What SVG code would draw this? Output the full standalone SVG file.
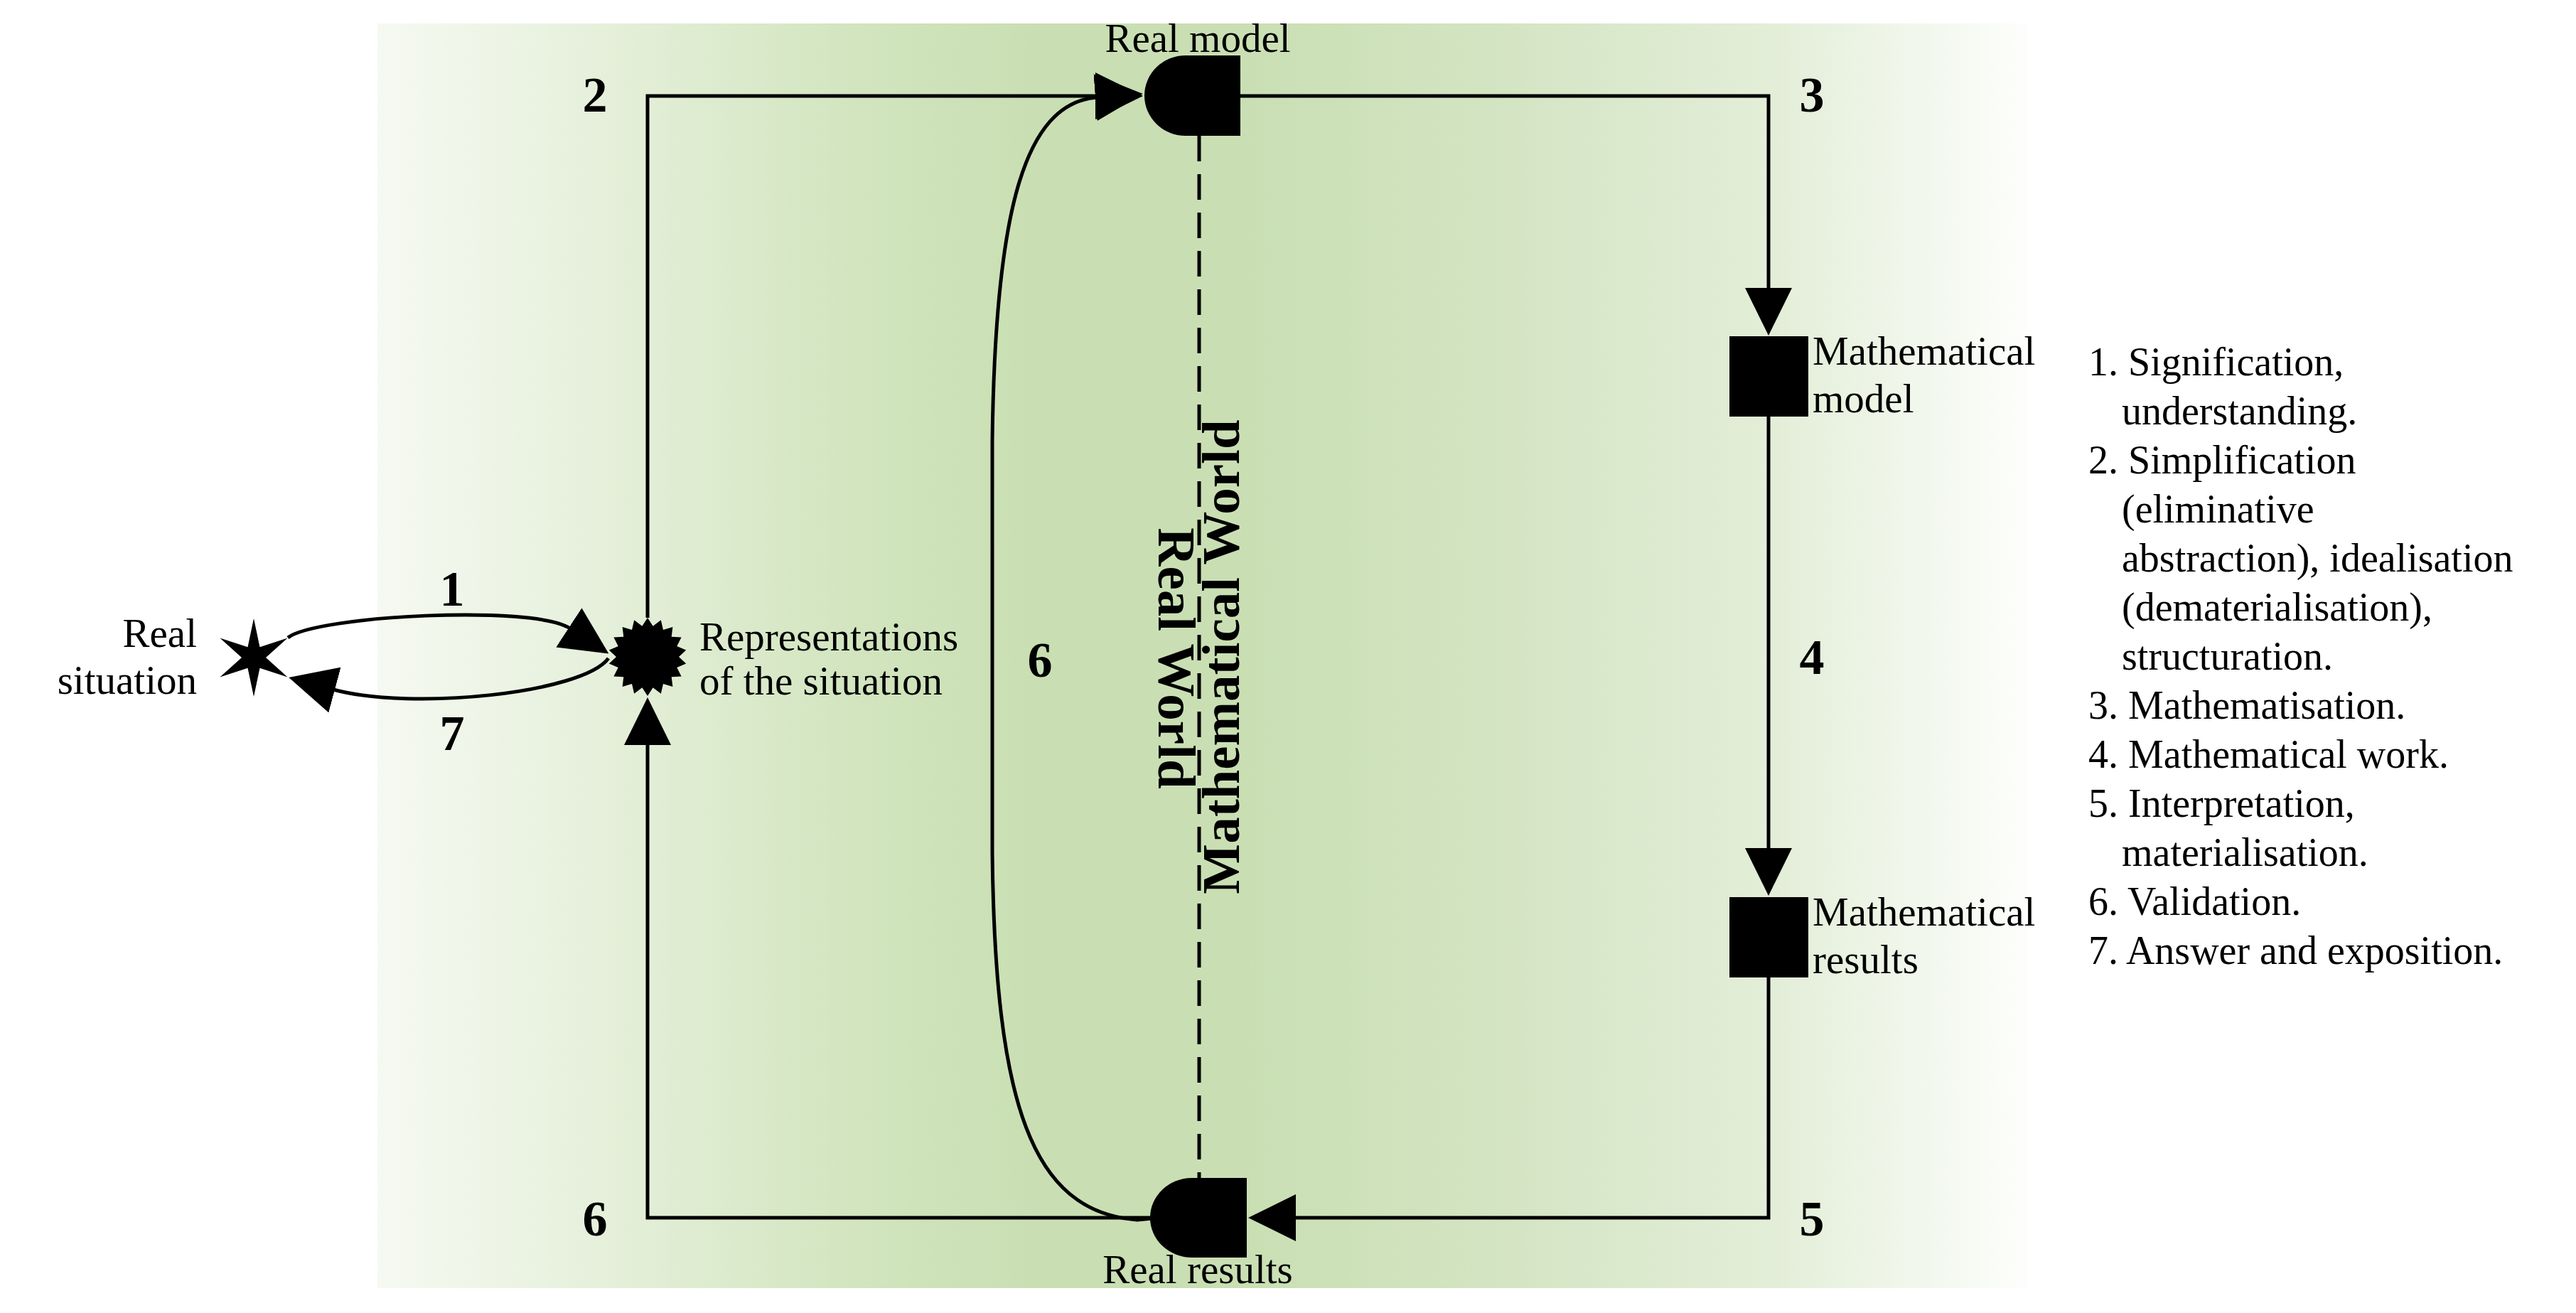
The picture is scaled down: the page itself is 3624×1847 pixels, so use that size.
<svg xmlns="http://www.w3.org/2000/svg" width="3624" height="1847" viewBox="0 0 3624 1847">
<defs>
<linearGradient id="bg" x1="531" y1="0" x2="2852" y2="0" gradientUnits="userSpaceOnUse">
<stop offset="0" stop-color="#f6f9f1"/>
<stop offset="0.116" stop-color="#e8f1de"/>
<stop offset="0.288" stop-color="#d2e5bf"/>
<stop offset="0.396" stop-color="#c9dfb3"/>
<stop offset="0.525" stop-color="#c9dfb3"/>
<stop offset="0.676" stop-color="#d3e4c2"/>
<stop offset="0.848" stop-color="#e3eed8"/>
<stop offset="1" stop-color="#fdfefc"/>
</linearGradient>
<marker id="arr" viewBox="0 0 67 66" refX="2" refY="33" markerWidth="67" markerHeight="66" markerUnits="userSpaceOnUse" orient="auto">
<path d="M0,0 L67,33 L0,66 Z" fill="#000"/>
</marker>
</defs>
<style>
.ln{fill:none;stroke:#000;stroke-width:5}
.arrow{marker-end:url(#arr)}
.dash{fill:none;stroke:#000;stroke-width:5;stroke-dasharray:36 18}
.shape{fill:#000}
.lbl{font-family:"Liberation Serif","Times New Roman",serif;font-size:57px;fill:#000}
.num{font-family:"Liberation Serif","Times New Roman",serif;font-size:70px;font-weight:bold;fill:#000;text-anchor:middle}
.world{font-family:"Liberation Serif","Times New Roman",serif;font-size:75px;font-weight:bold;fill:#000;text-anchor:middle}
.leg{font-family:"Liberation Serif","Times New Roman",serif;font-size:56px;fill:#000}
</style>
<rect x="0" y="0" width="3624" height="1847" fill="#ffffff"/>
<rect id="background" x="531" y="33" width="2321" height="1779" fill="url(#bg)"/>

<g id="connectors">
<path class="ln arrow" d="M911 869 V135 H1543"/>
<path class="ln arrow" d="M1745 135 H2488 V407"/>
<path class="ln arrow" d="M2488 586 V1195"/>
<path class="ln arrow" d="M2488 1375 V1713 H1821"/>
<path class="ln arrow" d="M1620 1713 H911 V1046"/>
<path class="ln arrow" d="M1620 1714 L1600 1716 C1450 1705 1400 1550 1396 1200 V620 C1400 300 1440 145 1543 137"/>
<path class="ln arrow" d="M405 897 C445 866 750 850 802 884"/>
<path class="ln arrow" d="M856 926 C820 975 580 1000 469 970"/>
<path class="dash" d="M1687 191 V1657"/>
<text class="num" x="636" y="852">1</text>
<text class="num" x="837" y="157">2</text>
<text class="num" x="2549" y="157">3</text>
<text class="num" x="2549" y="948">4</text>
<text class="num" x="2549" y="1738">5</text>
<text class="num" x="837" y="1738">6</text>
<text class="num" x="1463" y="952">6</text>
<text class="num" x="636" y="1055">7</text>
</g>

<g id="real-situation">
<polygon class="shape" points="357,870 365.5,910.3 404.6,897.5 374,925 404.6,952.5 365.5,939.7 357,980 348.5,939.7 309.4,952.5 340,925 309.4,897.5 348.5,910.3"/>
<text class="lbl" x="277" y="910" text-anchor="end">Real</text>
<text class="lbl" x="277" y="976" text-anchor="end">situation</text>
</g>

<g id="representations">
<polygon class="shape" points="911,869 918.6,880.7 929.8,872.3 933,885.9 946.4,881.9 944.7,895.7 958.6,896.5 952.3,909 965.2,914.5 955,924 965.2,933.5 952.3,939 958.6,951.5 944.7,952.3 946.4,966.1 933,962.1 929.8,975.7 918.6,967.3 911,979 903.4,967.3 892.2,975.7 889,962.1 875.6,966.1 877.3,952.3 863.4,951.5 869.7,939 856.8,933.5 867,924 856.8,914.5 869.7,909 863.4,896.5 877.3,895.7 875.6,881.9 889,885.9 892.2,872.3 903.4,880.7"/>
<text class="lbl" x="984" y="915">Representations</text>
<text class="lbl" x="984" y="977">of the situation</text>
</g>

<g id="real-model">
<path class="shape" d="M1668 78 H1745 V191 H1668 A58 56.5 0 0 1 1668 78 Z"/>
<text class="lbl" x="1685" y="73" text-anchor="middle">Real model</text>
</g>

<g id="mathematical-model">
<rect class="shape" x="2433" y="473" width="111" height="113"/>
<text class="lbl" x="2550" y="513">Mathematical</text>
<text class="lbl" x="2550" y="580">model</text>
</g>

<g id="mathematical-results">
<rect class="shape" x="2433" y="1262" width="111" height="113"/>
<text class="lbl" x="2550" y="1302">Mathematical</text>
<text class="lbl" x="2550" y="1369">results</text>
</g>

<g id="real-results">
<path class="shape" d="M1677 1657 H1754 V1769 H1677 A59 56 0 0 1 1677 1657 Z"/>
<text class="lbl" x="1685" y="1805" text-anchor="middle">Real results</text>
</g>

<g id="world-labels">
<text class="world" transform="translate(1743 924) rotate(-90)">Mathematical World</text>
<text class="world" transform="translate(1630 926) rotate(90)">Real World</text>
</g>

<g id="legend">
<text class="leg" x="2938" y="528">1. Signification,</text>
<text class="leg" x="2985" y="597">understanding.</text>
<text class="leg" x="2938" y="666">2. Simplification</text>
<text class="leg" x="2985" y="735">(eliminative</text>
<text class="leg" x="2985" y="804">abstraction), idealisation</text>
<text class="leg" x="2985" y="873">(dematerialisation),</text>
<text class="leg" x="2985" y="942">structuration.</text>
<text class="leg" x="2938" y="1011">3. Mathematisation.</text>
<text class="leg" x="2938" y="1080">4. Mathematical work.</text>
<text class="leg" x="2938" y="1149">5. Interpretation,</text>
<text class="leg" x="2985" y="1218">materialisation.</text>
<text class="leg" x="2938" y="1287">6. Validation.</text>
<text class="leg" x="2938" y="1356">7. Answer and exposition.</text>
</g>
</svg>
